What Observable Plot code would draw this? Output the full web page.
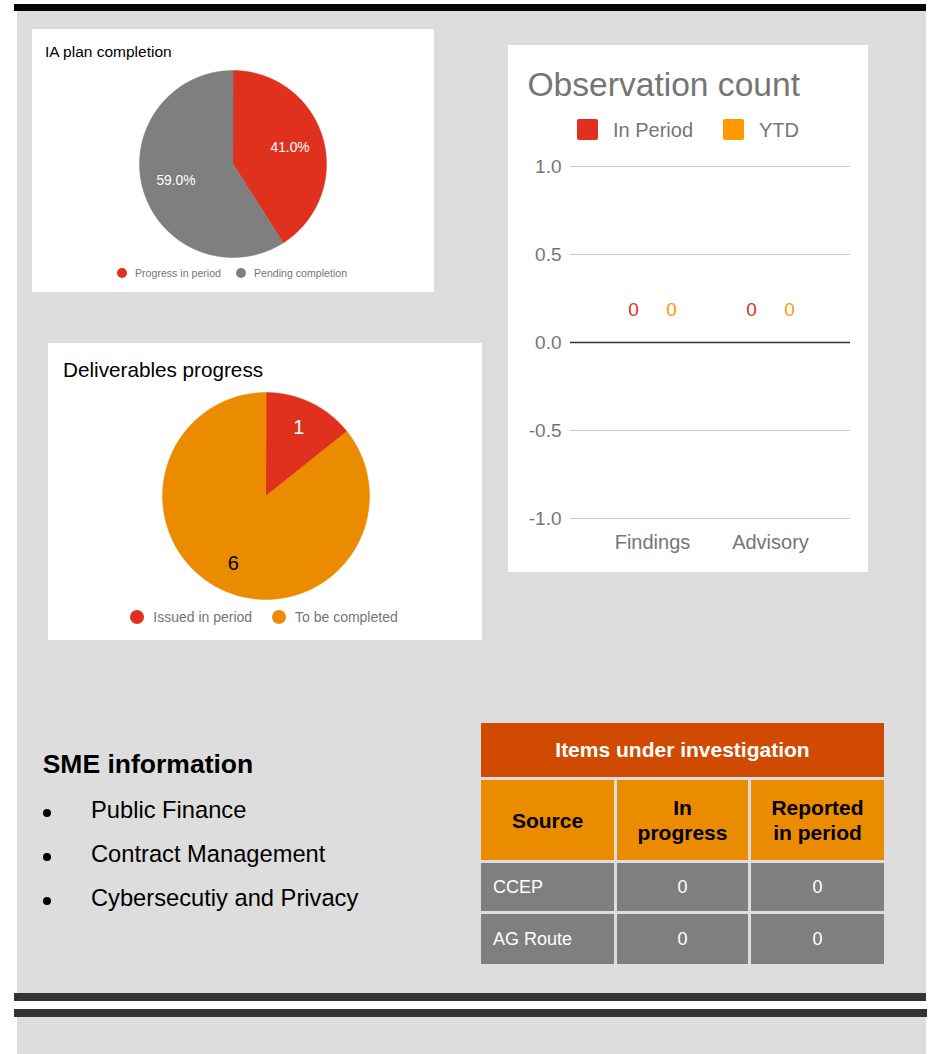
<!DOCTYPE html>
<html>
<head>
<meta charset="utf-8">
<script src="https://cdn.jsdelivr.net/npm/d3@7"></script>
<script src="https://cdn.jsdelivr.net/npm/@observablehq/plot@0.6"></script>
<style>
  body { margin: 0; background: #ffffff; font-family: "Liberation Sans", Arial, Helvetica, sans-serif; }
  #page { position: relative; width: 929px; height: 1054px; overflow: hidden; }
</style>
</head>
<body>
<div id="page"></div>
<script>
// ---------------- DATA ----------------
const iaTitle = "IA plan completion";
const iaLabels = ["Progress in period", "Pending completion"];
const iaValues = [41.0, 59.0];
const iaColors = ["#e0301e", "#7f7f7f"];
const iaTextColors = ["#ffffff", "#ffffff"];

const delivTitle = "Deliverables progress";
const delivLabels = ["Issued in period", "To be completed"];
const delivValues = [1, 6];
const delivColors = ["#e0301e", "#eb8c00"];
const delivTextColors = ["#ffffff", "#000000"];

const obsTitle = "Observation count";
const obsCategories = ["Findings", "Advisory"];
const obsSeries = ["In Period", "YTD"];
const obsInPeriod = [0, 0];
const obsYTD = [0, 0];
const obsColors = ["#e0301e", "#ff9900"];
const obsTicks = [-1, -0.5, 0, 0.5, 1];

const smeTitle = "SME information";
const smeItems = ["Public Finance", "Contract Management", "Cybersecutiy and Privacy"];

const tableTitle = "Items under investigation";
const tableHeaders = ["Source", "In progress", "Reported in period"];
const tableSources = ["CCEP", "AG Route"];
const tableInProgress = [0, 0];
const tableReported = [0, 0];

// ---------------- HELPERS ----------------
const FONT = '"Liberation Sans", Arial, Helvetica, sans-serif';
const page = document.getElementById("page");

function rect(x, y, w, h, bg, extra = {}) {
  const d = document.createElement("div");
  Object.assign(d.style, {position: "absolute", left: x + "px", top: y + "px", width: w + "px", height: h + "px", background: bg}, extra);
  page.appendChild(d);
  return d;
}
function label(x, baseline, str, size, color, extra = {}) {
  const d = document.createElement("div");
  d.textContent = str;
  Object.assign(d.style, {
    position: "absolute", left: x + "px", top: (baseline - 0.847 * size) + "px",
    fontSize: size + "px", lineHeight: size + "px", color, whiteSpace: "nowrap", fontFamily: FONT
  }, extra);
  page.appendChild(d);
  return d;
}
function place(el, x, y) {
  el.style.position = "absolute";
  el.style.left = x + "px";
  el.style.top = y + "px";
  page.appendChild(el);
}

function piePlot(labels, values, colors, textColors, size, labelR, labelFont, fmt) {
  const arcs = d3.pie().sort(null).value(d => d)(values);
  const total = d3.sum(values);
  const pts = [];
  arcs.forEach((a, i) => {
    const n = Math.ceil((a.endAngle - a.startAngle) / 0.005);
    pts.push({name: labels[i], px: 0, py: 0});
    for (let k = 0; k <= n; k++) {
      const t = a.startAngle + (a.endAngle - a.startAngle) * k / n;
      pts.push({name: labels[i], px: Math.sin(t), py: Math.cos(t)});
    }
  });
  const lbls = arcs.map((a, i) => {
    const m = (a.startAngle + a.endAngle) / 2;
    return {name: labels[i], px: labelR * Math.sin(m), py: labelR * Math.cos(m), text: fmt(values[i], total), color: textColors[i]};
  });
  return Plot.plot({
    width: size, height: size, margin: 0,
    x: {domain: [-1, 1], axis: null},
    y: {domain: [-1, 1], axis: null},
    color: {domain: labels, range: colors},
    style: {background: "transparent", overflow: "visible", fontFamily: FONT},
    marks: [
      Plot.line(pts, {x: "px", y: "py", z: "name", fill: "name", stroke: "name", strokeWidth: 0.5, curve: "linear-closed"}),
      ...lbls.map(d => Plot.text([d], {x: "px", y: "py", text: "text", fill: d.color, fontSize: labelFont}))
    ]
  });
}

function pieLegend(labels, colors, items, r, size, baselineOffset) {
  labels.forEach((l, i) => {
    const it = items[i];
    rect(it.cx - r, it.cy - r, 2 * r, 2 * r, colors[i], {borderRadius: "50%"});
    label(it.tx, it.cy + baselineOffset, l, size, "#757575");
  });
}

// ---------------- PAGE FRAME ----------------
rect(14, 4, 912, 7, "#050505");
rect(17, 11, 909, 982, "#dddddd");
rect(14, 993, 912, 8, "#333333");
rect(14, 1009, 913, 8, "#333333");
rect(17, 1017, 909, 37, "#dddddd");

// ---------------- CARD 1: IA plan completion ----------------
rect(32, 29, 402, 263, "#ffffff");
label(45, 57, iaTitle, 15.5, "#000000");
place(piePlot(iaLabels, iaValues, iaColors, iaTextColors, 187, 0.635, 13.8,
  (v, t) => (v / t * 100).toFixed(1) + "%"), 139, 70);
pieLegend(iaLabels, iaColors, [{cx: 122.3, cy: 272.7, tx: 135}, {cx: 241, cy: 272.7, tx: 254}], 5, 10.6, 3.8);

// ---------------- CARD 2: Deliverables progress ----------------
rect(48, 343, 434, 297, "#ffffff");
label(63, 377.3, delivTitle, 20.7, "#000000");
place(piePlot(delivLabels, delivValues, delivColors, delivTextColors, 207, 0.73, 20,
  (v) => String(v)), 161.5, 392);
pieLegend(delivLabels, delivColors, [{cx: 136.7, cy: 617, tx: 153.3}, {cx: 278.7, cy: 617, tx: 295}], 7, 14, 5);

// ---------------- CARD 3: Observation count ----------------
rect(508, 45, 360, 527, "#ffffff");
label(527.5, 96.5, obsTitle, 33.6, "#757575");
const obsLegendPos = [{sx: 577, tx: 613}, {sx: 723, tx: 759}];
obsSeries.forEach((s, i) => {
  rect(obsLegendPos[i].sx, 119, 21, 21, obsColors[i], {borderRadius: "2px"});
  label(obsLegendPos[i].tx, 137, s, 20, "#757575");
});

const obsData = obsCategories.flatMap((c, i) => [
  {category: c, series: obsSeries[0], value: obsInPeriod[i]},
  {category: c, series: obsSeries[1], value: obsYTD[i]}
]);
const obsPlot = Plot.plot({
  width: 360, height: 410,
  marginLeft: 62, marginRight: 18, marginTop: 16, marginBottom: 42,
  style: {background: "transparent", fontFamily: FONT, color: "#757575", overflow: "visible"},
  x: {domain: obsCategories, paddingInner: 0, paddingOuter: 0.183, align: 0.53, label: null},
  y: {domain: [-1, 1], label: null},
  color: {domain: obsSeries, range: obsColors},
  marks: [
    Plot.ruleY(obsTicks.filter(t => t !== 0), {stroke: "#cccccc", strokeWidth: 1}),
    Plot.ruleY([0], {stroke: "#333333", strokeWidth: 1.4}),
    ...obsSeries.map((s, j) => Plot.barY(obsData.filter(d => d.series === s),
      {x: "category", y: "value", fill: "series", inset: 6, dx: (j - 0.5) * 38})),
    ...obsSeries.map((s, j) => Plot.text(obsData.filter(d => d.series === s),
      {x: "category", y: "value", text: d => String(d.value), fill: "series", fontSize: 19, dx: (j - 0.5) * 38, dy: -33})),
    Plot.axisY({ticks: obsTicks, tickFormat: d => d.toFixed(1), tickSize: 0, tickPadding: 9, fontSize: 19, label: null, fill: "#757575"}),
    Plot.axisX({tickSize: 0, tickPadding: 16, fontSize: 20, label: null, fill: "#757575"})
  ]
});
place(obsPlot, 508, 150);

// ---------------- SME information ----------------
label(42.7, 773.5, smeTitle, 26.5, "#000000", {fontWeight: "bold"});
smeItems.forEach((s, i) => {
  const base = 819 + i * 44.2;
  rect(43.3, base - 10, 8, 8, "#000000", {borderRadius: "50%"});
  label(91, base, s, 23.7, "#000000");
});

// ---------------- Items under investigation table ----------------
const tbl = document.createElement("div");
Object.assign(tbl.style, {
  position: "absolute", left: "481px", top: "723px", display: "grid",
  gridTemplateColumns: "133px 131px 133px", gridTemplateRows: "54px 80px 48px 50px",
  gap: "3px", fontFamily: FONT
});
function cell(text, styles) {
  const c = document.createElement("div");
  c.textContent = text;
  Object.assign(c.style, {display: "flex", alignItems: "center", justifyContent: "center", textAlign: "center", boxSizing: "border-box"}, styles);
  tbl.appendChild(c);
  return c;
}
cell(tableTitle, {gridColumn: "1 / 4", background: "#d04a02", color: "#ffffff", fontWeight: "bold", fontSize: "21px"});
tableHeaders.forEach(h => cell(h, {background: "#eb8c00", color: "#000000", fontWeight: "bold", fontSize: "21px", lineHeight: "25px", padding: "0 12px"}));
tableSources.forEach((s, i) => {
  cell(s, {background: "#7f7f7f", color: "#ffffff", fontSize: "18px", justifyContent: "flex-start", paddingLeft: "12px"});
  cell(String(tableInProgress[i]), {background: "#7f7f7f", color: "#ffffff", fontSize: "18px"});
  cell(String(tableReported[i]), {background: "#7f7f7f", color: "#ffffff", fontSize: "18px"});
});
page.appendChild(tbl);
</script>
</body>
</html>
